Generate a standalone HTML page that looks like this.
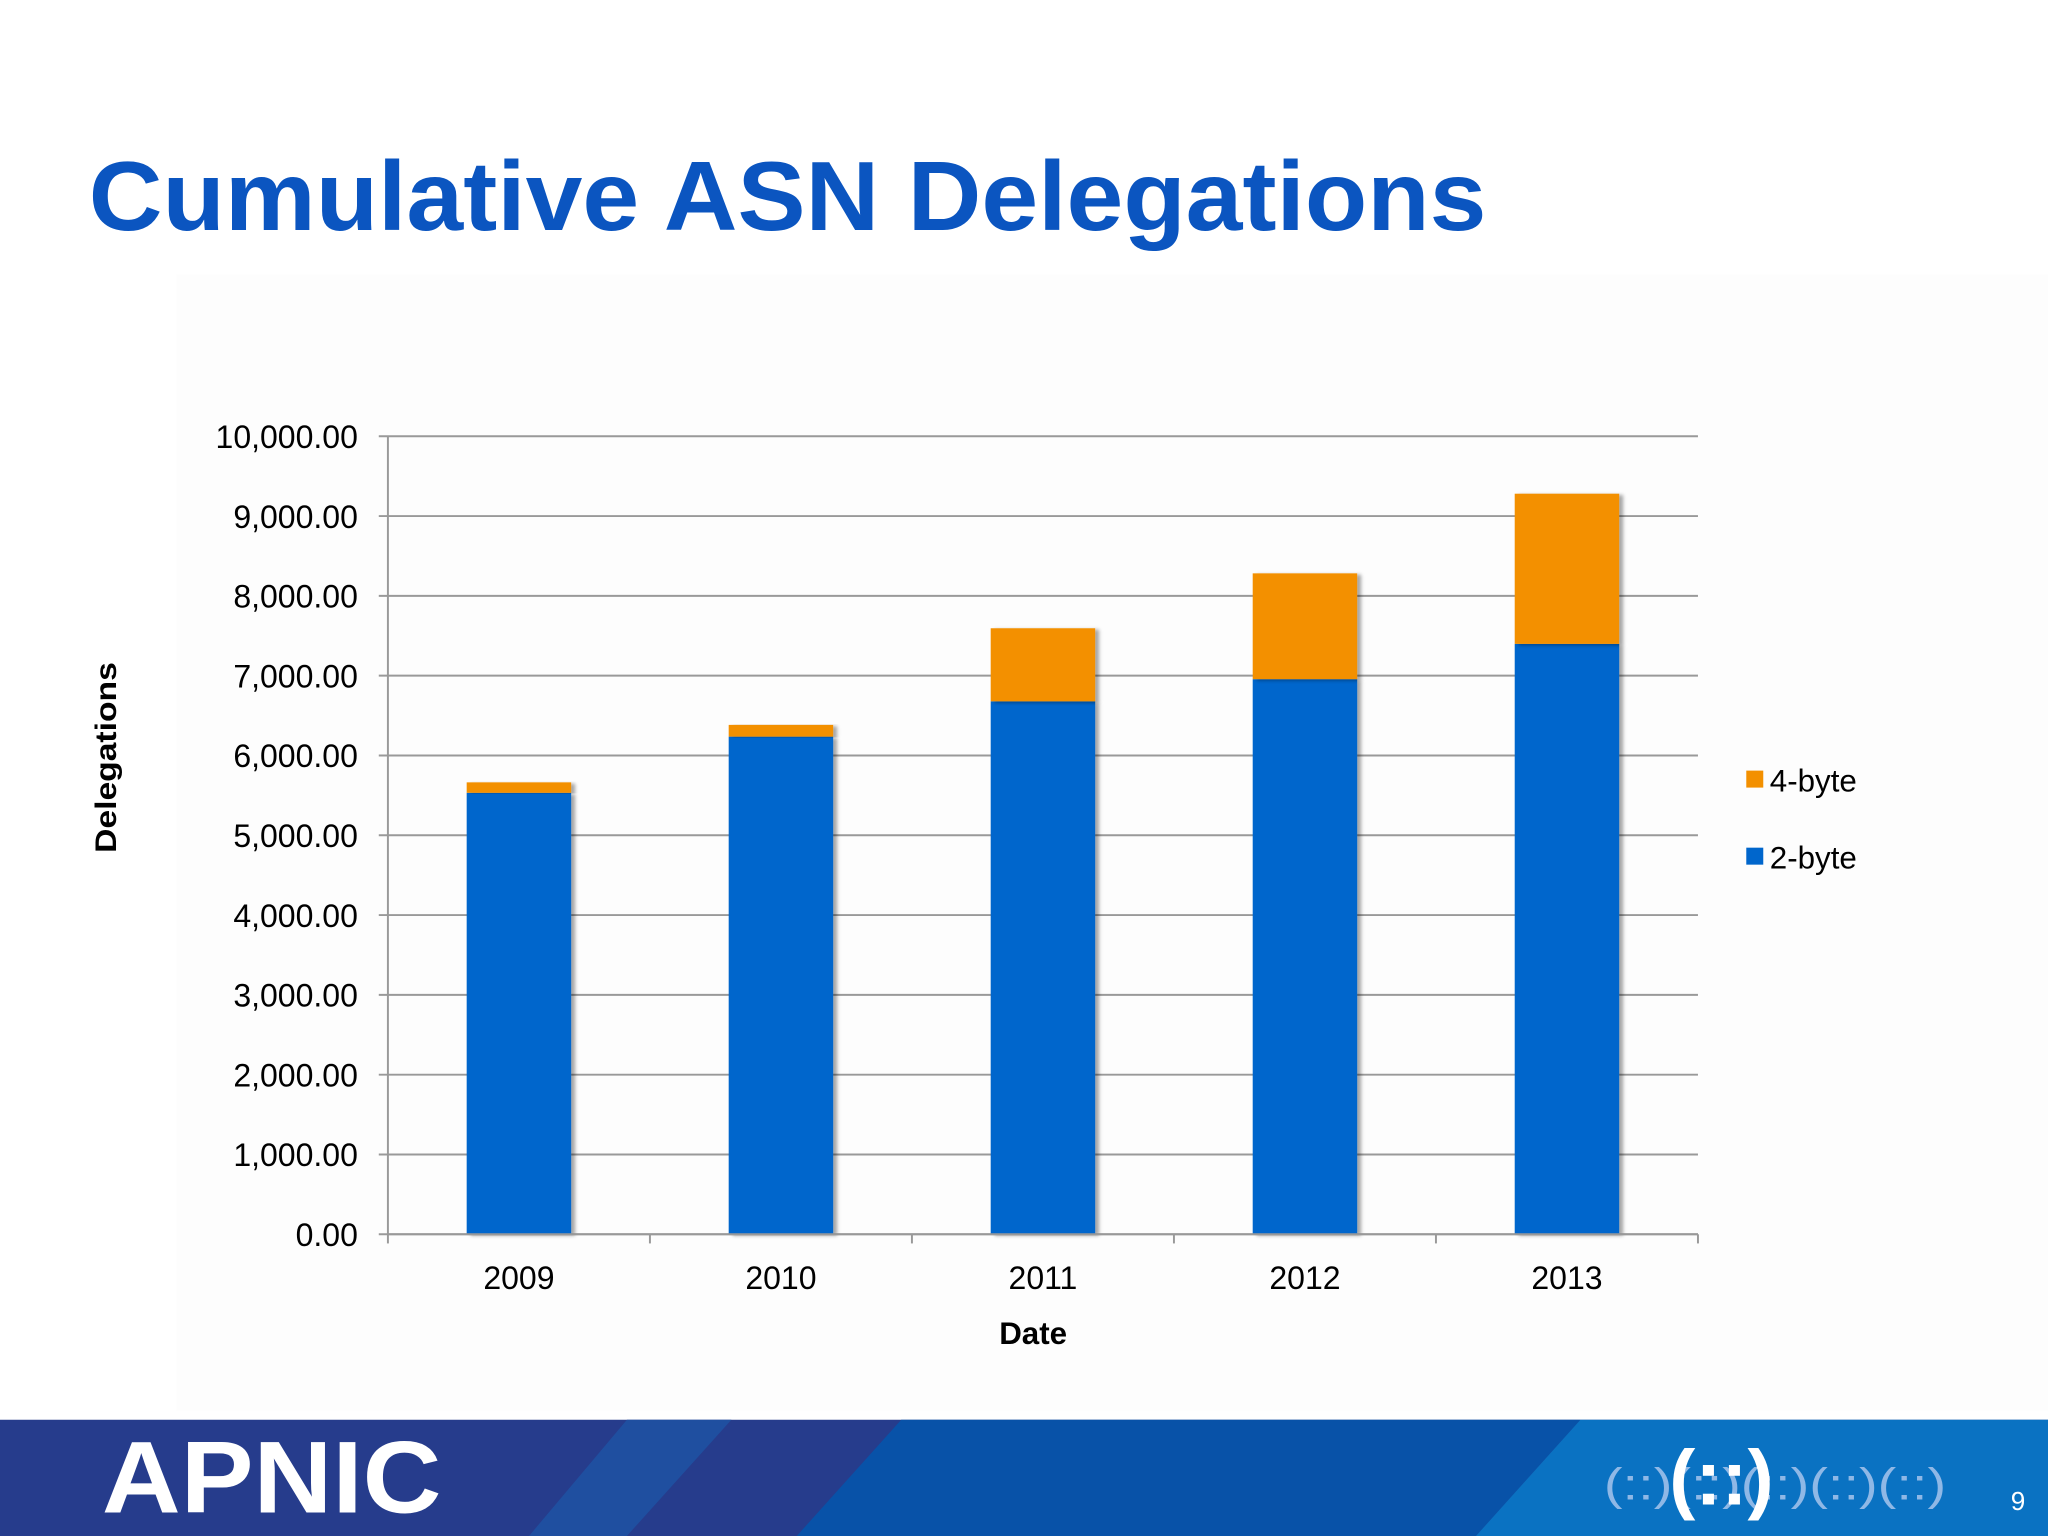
<!DOCTYPE html>
<html><head><meta charset="utf-8">
<style>
html,body{margin:0;padding:0;background:#fff;}
svg{display:block;}
text{font-family:"Liberation Sans",Arial,sans-serif;}
</style></head>
<body>
<svg id="s" width="2048" height="1536" viewBox="0 0 1568 1176" xmlns="http://www.w3.org/2000/svg">
  <defs>
    <filter id="sh" x="-10%" y="-5%" width="130%" height="110%">
      <feDropShadow dx="3" dy="1" stdDeviation="1.5" flood-color="#000" flood-opacity="0.35"/>
    </filter>
  </defs>
  <rect x="0" y="0" width="1568" height="1176" fill="#fff"/>
  <rect x="135" y="210" width="1433" height="870" fill="#fdfdfd"/>
  <text x="68" y="176" font-size="75" font-weight="bold" fill="#0b55c0" textLength="1070" lengthAdjust="spacingAndGlyphs">Cumulative ASN Delegations</text>
  <g id="grid"></g>
  <g id="yt"></g>
  <g id="bars"></g>
  <g id="xt"></g>
  <text x="89" y="580" font-size="23" font-weight="bold" fill="#000" text-anchor="middle" textLength="146" lengthAdjust="spacingAndGlyphs" transform="rotate(-90 89 580)">Delegations</text>
  <text x="791" y="1029" font-size="24" font-weight="bold" fill="#000" text-anchor="middle">Date</text>
  <g>
    <g>
      <rect x="1337" y="590" width="13" height="13" fill="#f39000"/>
      <text x="1355" y="606" font-size="24" fill="#000">4-byte</text>
    </g>
    <g>
      <rect x="1337" y="649" width="13" height="13" fill="#0066cc"/>
      <text x="1355" y="665" font-size="24" fill="#000">2-byte</text>
    </g>
  </g>
  <g>
    <rect x="0" y="1087" width="1568" height="89" fill="#263c8c"/>
    <polygon points="480,1087 560,1087 480,1176 405,1176" fill="#1f4fa0"/>
    <polygon points="690,1087 1210,1087 1130,1176 610,1176" fill="#0852a8"/>
    <polygon points="1210,1087 1568,1087 1568,1176 1130,1176" fill="#0a72c2"/>
    <text x="78" y="1158" font-size="78" font-weight="bold" fill="#fff" textLength="260" lengthAdjust="spacingAndGlyphs">APNIC</text>
    <text x="1228" y="1148" font-size="34" fill="#8fb8e6" textLength="262" lengthAdjust="spacingAndGlyphs">(::)(::)(::)(::)(::)</text>
    <text x="1278" y="1152" font-size="60" font-weight="bold" fill="#fff">(::)</text>
    <text x="1545" y="1156" font-size="20" fill="#fff" text-anchor="middle">9</text>
  </g>
</svg>
<script>
const years = ["2009","2010","2011","2012","2013"];
const twoByte = [5532, 6236, 6678, 6956, 7398];
const fourByte = [131, 147, 916, 1326, 1882];
const yTicks = [0,1000,2000,3000,4000,5000,6000,7000,8000,9000,10000];
const yTickLabels = ["0.00","1,000.00","2,000.00","3,000.00","4,000.00","5,000.00","6,000.00","7,000.00","8,000.00","9,000.00","10,000.00"];

const NS = "http://www.w3.org/2000/svg";
const X0 = 297, X1 = 1300, Y0 = 945, Y1 = 334, YMAX = 10000;
const y = v => Y0 - (v / YMAX) * (Y0 - Y1);
const band = (X1 - X0) / years.length;
const xc = i => X0 + band * (i + 0.5);
const BW = 80;
function mk(tag, attrs, parent){
  const e = document.createElementNS(NS, tag);
  for (const k in attrs) e.setAttribute(k, attrs[k]);
  parent.appendChild(e);
  return e;
}
const grid = document.getElementById('grid');
const yt = document.getElementById('yt');
yTicks.forEach((v, i) => {
  const l = mk('line', {x1: X0 - 7, x2: X1, y1: y(v), y2: y(v), stroke: '#999', 'stroke-width': 1.5}, grid);
  
  
  const t = mk('text', {x: 274, y: y(v) + 9, 'font-size': 24.5, 'text-anchor': 'end', fill: '#000'}, yt);
  t.textContent = yTickLabels[i];
  
  
});
const ax = mk('line', {x1: X0, x2: X0, y1: Y1, y2: Y0, stroke: '#999', 'stroke-width': 1.5}, grid);



const bars = document.getElementById('bars');
const xt = document.getElementById('xt');
years.forEach((yr, i) => {
  const x = xc(i) - BW / 2;
  const b = mk('rect', {x: x, y: y(twoByte[i]), width: BW, height: Y0 - y(twoByte[i]), fill: '#0066cc', filter: 'url(#sh)'}, bars);
  
  
  const tot = twoByte[i] + fourByte[i];
  const o = mk('rect', {x: x, y: y(tot), width: BW, height: y(twoByte[i]) - y(tot), fill: '#f39000', filter: 'url(#sh)'}, bars);
  
  
  const t = mk('text', {x: xc(i), y: 987, 'font-size': 24.5, 'text-anchor': 'middle', fill: '#000'}, xt);
  t.textContent = yr;
  
  
});
for (let i = 0; i <= years.length; i++) {
  const tx = X0 + band * i;
  const tk = mk('line', {x1: tx, x2: tx, y1: Y0, y2: Y0 + 7, stroke: '#999', 'stroke-width': 1.5}, xt);
  
  
}
const xa = mk('line', {x1: X0, x2: X1, y1: Y0, y2: Y0, stroke: '#999', 'stroke-width': 1.5}, xt);


</script>
</body></html>
